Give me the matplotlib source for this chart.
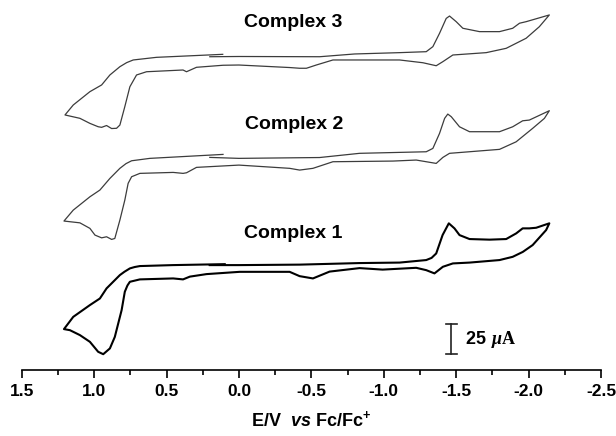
import matplotlib
matplotlib.use("Agg")
import matplotlib.pyplot as plt

plt.rcParams['font.family'] = ['Liberation Sans', 'DejaVu Sans']
plt.rcParams['mathtext.fontset'] = 'custom'
plt.rcParams['mathtext.rm'] = 'Liberation Sans:bold'
plt.rcParams['mathtext.it'] = 'Liberation Sans:italic:bold'
plt.rcParams['mathtext.bf'] = 'Liberation Sans:bold'

# cyclic voltammograms, potential in V vs Fc/Fc+, current in uA (relative)
E1 = [0.201, 0.0, -0.42, -0.833, -1.109, -1.293, -1.33, -1.362, -1.406, -1.449, -1.488,
      -1.523, -1.592, -1.730, -1.845, -1.914, -1.959, -2.005, -2.052, -2.143,
      -2.121, -2.028, -1.96, -1.890, -1.799, -1.592, -1.477, -1.408, -1.350, -1.293,
      -1.224, -0.992, -0.833, -0.626, -0.511, -0.419, -0.350, -0.005, 0.224,
      0.339, 0.386, 0.454, 0.684, 0.753, 0.77, 0.788, 0.810, 0.857, 0.891, 0.937,
      0.972, 1.029, 1.098, 1.167, 1.208, 1.144, 1.029, 0.960, 0.914, 0.822, 0.79,
      0.753, 0.72, 0.684, 0.457, 0.098]
I1 = [2.5, 2.5, 2.9, 4.2, 4.6, 6.7, 8.5, 12.2, 27.5, 37.3, 33.1,
      27.5, 24.2, 23.7, 24.2, 28.9, 33.1, 33.1, 33.6, 37.3,
      31.7, 19.2, 13.5, 9.4, 6.7, 4.6, 3.9, 1.1, -4.4, -1.7,
      0.25, -1.25, 0.0, -2.9, -8.6, -6.7, -3.1, -3.1, -5.0,
      -7.1, -9.4, -8.6, -9.4, -11.4, -14.5, -19.7, -35.0, -57.3, -66.9, -71.7,
      -69.7, -61.4, -55.8, -51.7, -50.8, -40.6, -30.8, -25.3, -16.9, -5.8, -3.0,
      -0.25, 0.9, 1.7, 2.5, 3.3]

E2 = [0.201, 0.0, -0.557, -0.833, -1.293, -1.339, -1.385, -1.420, -1.442, -1.466,
      -1.523, -1.592, -1.799, -1.890, -1.959, -2.005, -2.143,
      -2.109, -2.028, -1.914, -1.799, -1.454, -1.408, -1.362, -1.293, -1.224,
      -1.063, -0.649, -0.511, -0.419, -0.350, 0.0, 0.293, 0.362, 0.386, 0.454,
      0.684, 0.741, 0.765, 0.788, 0.822, 0.857, 0.879, 0.914, 0.948, 0.994,
      1.029, 1.098, 1.208, 1.144, 1.029, 0.960, 0.891, 0.822, 0.78, 0.741, 0.615, 0.110]
I2 = [1.8, 1.0, 1.7, 5.2, 6.5, 9.3, 21.8, 34.3, 37.9, 35.7,
      27.3, 23.2, 23.2, 27.3, 32.3, 32.9, 40.7,
      34.3, 26.0, 14.8, 8.5, 5.2, 1.8, -3.2, -1.8, -0.4,
      -1.25, -1.8, -7.3, -8.75, -7.3, -4.6, -6.5, -11.0, -11.5, -10.7,
      -11.5, -14.3, -19.8, -33.8, -50.4, -65.7, -66.5, -64.3, -65.2, -62.9,
      -57.3, -52.7, -51.2, -42.1, -31.0, -25.4, -15.7, -7.3, -3.4, -1.0, 1.0, 4.3]

E3 = [0.201, 0.0, -0.557, -0.799, -1.109, -1.293, -1.339, -1.385, -1.431, -1.454,
      -1.500, -1.546, -1.661, -1.799, -1.890, -1.937, -1.983, -2.143,
      -2.074, -1.983, -1.845, -1.707, -1.477, -1.408, -1.362, -1.270, -1.109,
      -0.649, -0.534, -0.466, -0.419, -0.350, 0.0, 0.110, 0.293, 0.362, 0.386,
      0.638, 0.707, 0.753, 0.788, 0.822, 0.845, 0.879, 0.914, 0.948, 0.972,
      1.029, 1.098, 1.201, 1.144, 1.029, 0.948, 0.891, 0.822, 0.775, 0.730, 0.569, 0.112]
I3 = [2.3, 2.5, 2.3, 4.6, 5.7, 6.5, 10.7, 21.8, 34.2, 36.2,
      31.5, 26.0, 23.2, 23.2, 26.0, 30.2, 31.5, 37.1,
      27.3, 17.7, 9.3, 5.7, 3.75, -1.8, -5.2, -2.7, -0.4,
      -0.4, -4.6, -7.3, -7.3, -6.7, -4.6, -4.8, -6.5, -10.2, -8.75,
      -10.2, -12.9, -22.7, -39.3, -54.6, -57.3, -57.5, -55.0, -56.5, -56.0,
      -53.2, -49.0, -46.2, -37.9, -26.8, -21.2, -12.9, -6.0, -2.6, -0.4, 1.8, 4.3]

offsets = [85.0, 175.4, 258.75]
names = ['Complex 1', 'Complex 2', 'Complex 3']
label_y = [114.2, 204.2, 289.2]
xticks = [1.5, 1.0, 0.5, 0.0, -0.5, -1.0, -1.5, -2.0, -2.5]
scale_bar = 25  # uA

fig = plt.figure(figsize=(6.16, 4.36), dpi=100)
ax = fig.add_axes([0.0352, 0.151, 0.9405, 0.849])

ax.plot(E1, [i + offsets[0] for i in I1], color='black', lw=1.5, solid_joinstyle='round')
ax.plot(E2, [i + offsets[1] for i in I2], color='#3c3c3c', lw=0.9, solid_joinstyle='round')
ax.plot(E3, [i + offsets[2] for i in I3], color='#3c3c3c', lw=0.9, solid_joinstyle='round')

for name, y in zip(names, label_y):
    ax.text(-0.378, y, name, ha='center', va='center', fontsize=14, fontweight='bold')

# scale bar
xb = -1.467
y0 = 13.3
ax.plot([xb, xb], [y0, y0 + scale_bar], color='#222222', lw=1.2)
ax.plot([xb - 0.037, xb + 0.037], [y0, y0], color='#222222', lw=1.2)
ax.plot([xb - 0.037, xb + 0.037], [y0 + scale_bar, y0 + scale_bar], color='#222222', lw=1.2)
t1 = ax.text(-1.571, y0 + scale_bar / 2, '25 ', ha='left', va='center',
             fontsize=13, fontweight='bold')
t2 = ax.annotate('\u03bc', xy=(1, 0), xycoords=t1, ha='left', va='bottom',
                 fontsize=13, fontweight='bold', style='italic', family='Liberation Serif')
ax.annotate('A', xy=(1, 0), xycoords=t2, ha='left', va='bottom',
            fontsize=13, fontweight='bold', family='Liberation Serif')

ax.set_xlim(1.5, -2.5)
ax.set_ylim(0, 308.3)
ax.set_xticks(xticks)
ax.set_xticklabels([f'{v:.1f}' for v in xticks])
ax.set_xticks([1.25, 0.75, 0.25, -0.25, -0.75, -1.25, -1.75, -2.25], minor=True)
ax.tick_params(axis='x', which='major', length=6, width=1.2, pad=4, labelsize=12.5)
ax.tick_params(axis='x', which='minor', length=3.5, width=1.2)
for lab in ax.get_xticklabels():
    lab.set_fontweight('bold')
ax.set_yticks([])
for s in ['left', 'right', 'top']:
    ax.spines[s].set_visible(False)
ax.spines['bottom'].set_linewidth(1.2)
ax.set_xlabel(r'E/V  $\mathit{vs}$ Fc/Fc$^{+}$', fontsize=13, fontweight='bold', labelpad=8)

fig.savefig('out.png', dpi=100)
